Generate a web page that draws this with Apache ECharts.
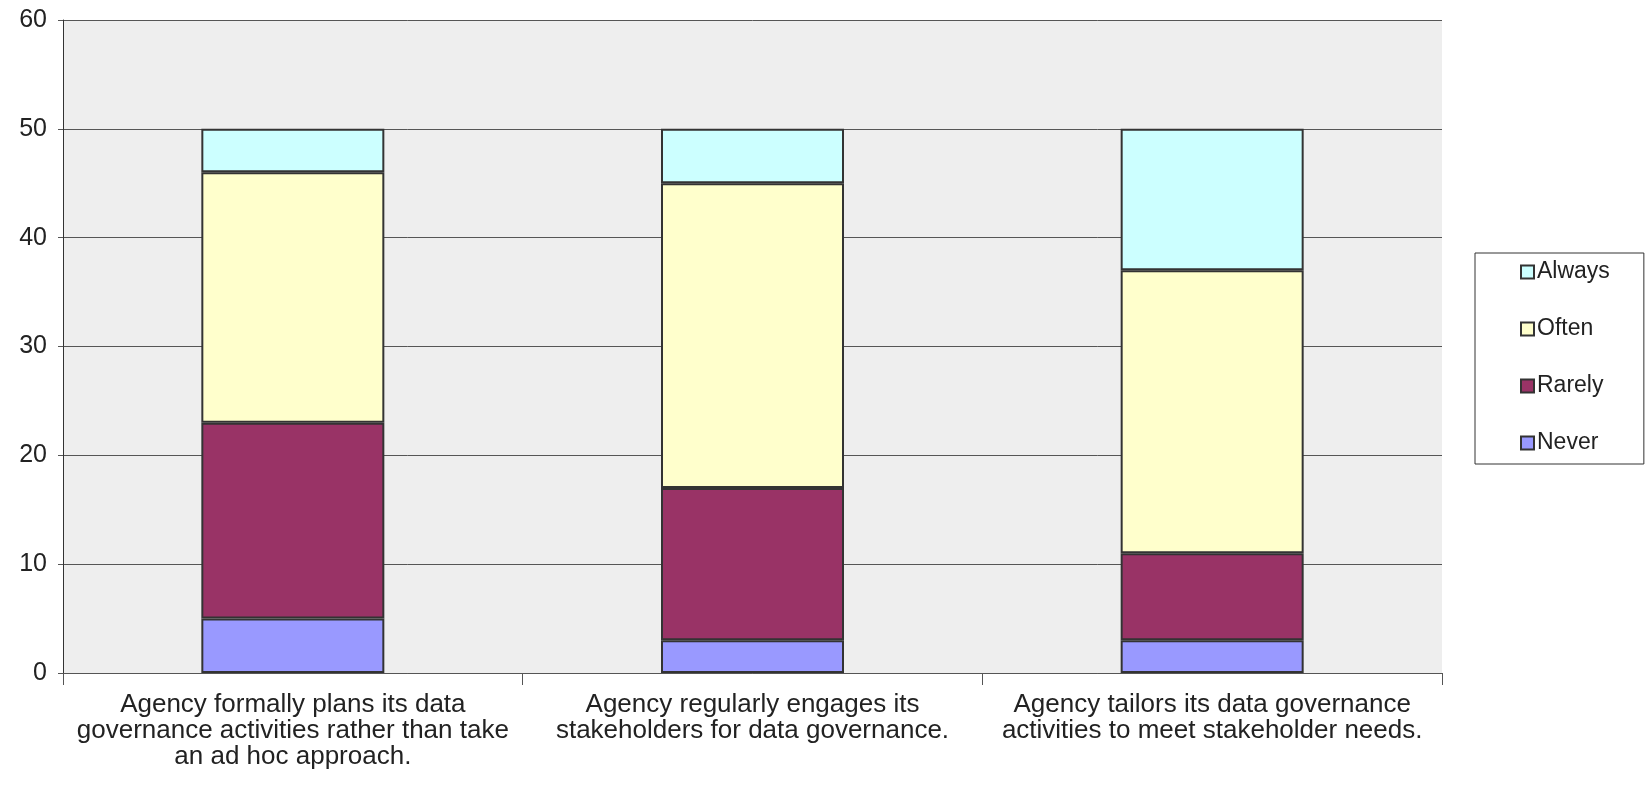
<!DOCTYPE html>
<html><head><meta charset="utf-8">
<script src="https://cdn.jsdelivr.net/npm/echarts@6/dist/echarts.min.js"></script>
<style>html,body{margin:0;padding:0;background:#fff}#c{width:1652px;height:785px}</style>
</head><body><div id="c"></div>
<script>
const categories = [
  "Agency formally plans its data\ngovernance activities rather than take\nan ad hoc approach.",
  "Agency regularly engages its\nstakeholders for data governance.",
  "Agency tailors its data governance\nactivities to meet stakeholder needs."
];
const never  = [5, 3, 3];
const rarely = [18, 14, 8];
const often  = [23, 28, 26];
const always = [4, 5, 13];
const yTicks = [0, 10, 20, 30, 40, 50, 60];

const chart = echarts.init(document.getElementById('c'));
const font = 'Liberation Sans, Arial, sans-serif';
function s(name, data, color) {
  return {name, type:'bar', stack:'t', data, barWidth:183,
    itemStyle:{color, borderColor:'#333', borderWidth:2}};
}
chart.setOption({
  animation:false,
  textStyle:{fontFamily:font},
  grid:{left:63, right:210, top:20, bottom:112, show:true, backgroundColor:'#eeeeee', borderWidth:0},
  legend:{
    orient:'vertical', left:1475, top:253,
    data:['Always','Often','Rarely','Never'],
    backgroundColor:'#fff', borderColor:'#333', borderWidth:1,
    padding:[7, 34, 9, 45],
    itemWidth:13, itemHeight:13, itemGap:33,
    icon:'rect',
    itemStyle:{borderColor:'#333', borderWidth:2},
    textStyle:{fontSize:23, color:'#222', fontFamily:font, lineHeight:24, padding:[0,0,0,-2]}
  },
  xAxis:{type:'category', data:categories,
    axisLine:{lineStyle:{color:'#555', width:1}},
    axisTick:{show:true, length:12, lineStyle:{color:'#555'}},
    axisLabel:{fontSize:26, color:'#222', lineHeight:26, margin:19, interval:0}
  },
  yAxis:{type:'value', min:0, max:60, interval:10,
    axisLine:{show:true, lineStyle:{color:'#333'}},
    axisTick:{show:true, length:5, lineStyle:{color:'#555'}},
    splitLine:{lineStyle:{color:'#555', width:1}},
    axisLabel:{fontSize:25, color:'#222', margin:16,
      formatter:v=>yTicks.includes(v)?String(v):''}
  },
  series:[
    s('Never', never, '#9999ff'),
    s('Rarely', rarely, '#993366'),
    s('Often', often, '#ffffcc'),
    s('Always', always, '#ccffff')
  ]
});
</script></body></html>
